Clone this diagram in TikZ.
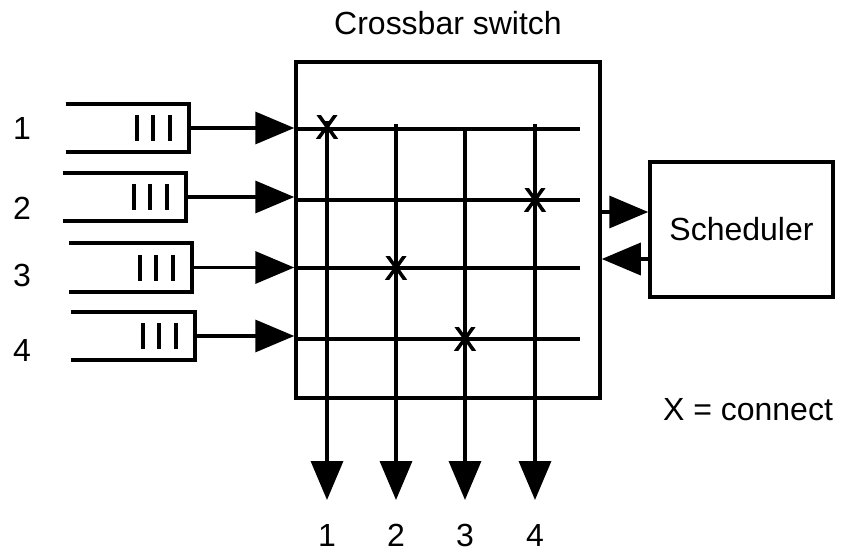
\documentclass[tikz,border=0pt]{standalone}
\usepackage{fontspec}
\setmainfont{Liberation Sans}
\usetikzlibrary{arrows.meta}
\begin{document}
\begin{tikzpicture}[x=1pt,y=-1pt,
  wire/.style={line width=3.5pt},
  bigtip/.style={-{Triangle[length=39pt,width=32pt]}},
  lbl/.style={font=\fontsize{32}{38}\selectfont, inner sep=0pt},
  crosspt/.style={font=\fontsize{33}{38}\selectfont\addfontfeature{FakeBold=2.5}, inner sep=0pt},
  box/.style={draw, line width=3.5pt, inner sep=0pt},
  queuebox/.style={inner sep=0pt, minimum width=123pt, minimum height=48pt}
]
\useasboundingbox (0,0) rectangle (844,554);

% crossbar switch and its title
\node[box, minimum width=304pt, minimum height=336pt] (cb) at (448,230) {};
\node[lbl] (title) at (448,23) {Crossbar switch};

% scheduler
\node[box, lbl, minimum width=183pt, minimum height=135pt] (sch) at (741.5,229.5) {Scheduler};
\draw[wire,bigtip] (cb.east |- 0,212) -- (sch.west |- 0,212);
\draw[wire,bigtip] ([xshift=3pt]sch.west |- 0,259) -- (cb.east |- 0,259);

% input queues with their numbers
\foreach \i/\x/\y/\ly in {1/127.5/128/128, 2/124.5/197/208, 3/130.5/267.5/275, 4/133/336/350} {
  \node[queuebox] (q\i) at (\x,\y) {};
  \node[lbl] (in\i) at (22,\ly) {\i};
  \draw[wire, line width=4pt, line join=miter] (q\i.north west) -- (q\i.north east) -- (q\i.south east) -- (q\i.south west);
  \foreach \d in {52,36,19}
    \draw[wire, line width=4pt] ([shift={(-\d,-13)}]q\i.east) -- ([shift={(-\d,13)}]q\i.east);
  \draw[wire,bigtip] (q\i.east) -- (cb.west |- q\i.east);
}

% row wires of the crossbar
\foreach \r/\y in {1/129, 2/200, 3/268, 4/339} {
  \coordinate (r\r) at (580,\y);
  \draw[wire] (cb.west |- r\r) -- (r\r);
}

% column wires leading to the outputs
\foreach \c/\x/\t in {1/327/121, 2/396/124, 3/465/127, 4/535/124} {
  \coordinate (c\c) at (\x,\t);
  \coordinate (o\c) at (\x,500);
  \draw[wire,bigtip] (c\c) -- (o\c);
  \node[lbl] (out\c) at (\x,535) {\c};
}

% active crosspoints
\node[crosspt] (x1) at (327,127) {X};
\node[crosspt] (x2) at (535,200) {X};
\node[crosspt] (x3) at (396,268) {X};
\node[crosspt] (x4) at (465,339) {X};

% legend
\node[lbl] (legend) at (748,410) {X = connect};
\end{tikzpicture}
\end{document}
